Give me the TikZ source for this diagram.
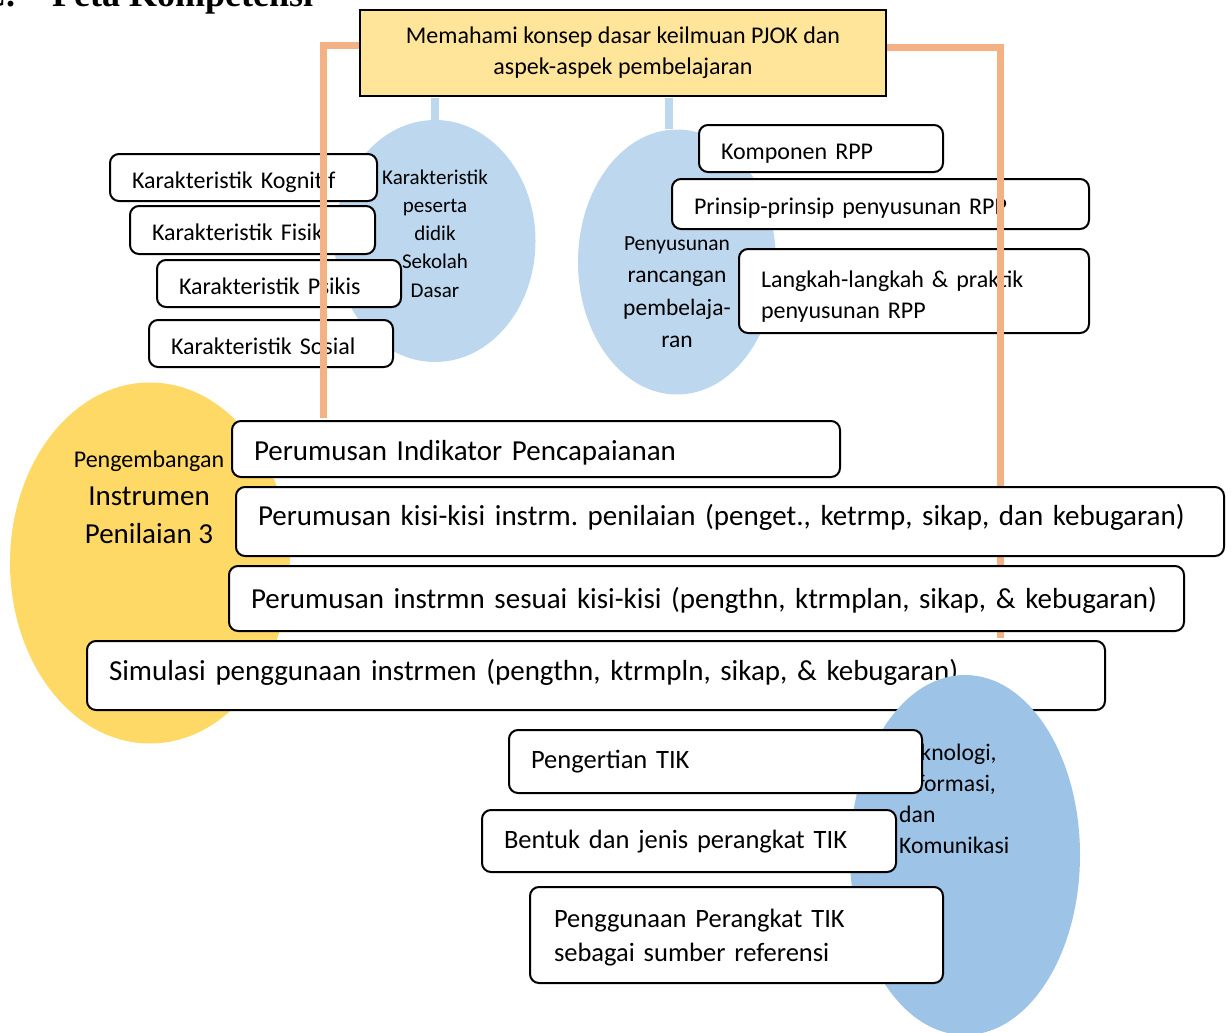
\documentclass[tikz,border=0pt]{standalone}
\usepackage{fontspec}
\setmainfont{Carlito}
\newfontfamily\headfont{Liberation Serif}
\usetikzlibrary{shapes.geometric}

\definecolor{topyellow}{RGB}{255,229,153}
\definecolor{linkorange}{RGB}{244,177,131}
\definecolor{paleblue}{RGB}{189,215,238}
\definecolor{goldyellow}{RGB}{255,217,102}
\definecolor{midblue}{RGB}{157,195,230}

\newcommand{\fs}[2]{\fontsize{#1}{#2}\selectfont}

\tikzset{
  pbox/.style={draw=black, line width=2pt, rounded corners=9pt, fill=white,
    anchor=north west, align=left, inner xsep=22pt, inner ysep=0pt},
  small24/.style={font=\fs{24}{31}, text height=26pt, text depth=5pt},
  big29/.style={font=\fs{29}{36}, text depth=7pt},
  tik27/.style={font=\fs{26.5}{34}, text depth=6pt},
  blob/.style={ellipse, inner sep=0pt, draw=none},
  blobtext/.style={inner sep=0pt},
  orangeline/.style={draw=linkorange, line width=7pt},
  stub/.style={draw=paleblue, line width=8pt},
}

\begin{document}
\frenchspacing
\begin{tikzpicture}[x=1pt,y=1pt,yscale=-1]
\useasboundingbox (0,0) rectangle (1232,1033);

% heading, cut at the top
\node[anchor=base west, inner sep=0pt, font=\headfont\bfseries\fs{36}{40}] (head) at (-20,7) {C.\hspace{37pt}Peta Kompetensi};

% main box
\node[draw=black, line width=2pt, fill=topyellow, anchor=north west, inner sep=0pt,
  minimum width=526, minimum height=86, align=center, font=\fs{24}{31}] (top) at (359,9)
  {Memahami konsep dasar keilmuan PJOK dan\\aspek-aspek pembelajaran};

% upper ellipses
\node[blob, fill=paleblue, minimum width=201, minimum height=242] (ks) at (435,241) {};
\node[blobtext, align=center, font=\fs{21}{28.2}] (ks-t) at (435,233.5) {Karakteristik\\peserta\\didik\\Sekolah\\Dasar};
\node[blob, fill=paleblue, minimum width=198, minimum height=265] (ps) at (677,262) {};
\node[blobtext, align=center, font=\fs{23.5}{32.5}] (ps-t) at (677,292) {{\fs{21.5}{32.5}Penyusunan}\\rancangan\\pembelaja-\\ran};

\draw[stub, shorten <=1pt] (top.south -| ks.north) -- (ks.north);
\draw[stub, shorten <=1pt] (top.south -| 669,0) -- (669,0 |- ps.north);

% karakteristik
\node[pbox, small24, text width=223, minimum height=47] (kog) at (109,153) {Karakteristik Kognitif};
\node[pbox, small24, text width=201, minimum height=48] (fis) at (129,205) {Karakteristik Fisik};
\node[pbox, small24, text width=200, minimum height=47] (psi) at (156,259) {Karakteristik Psikis};
\node[pbox, small24, text width=200, minimum height=47] (sos) at (148,319) {Karakteristik Sosial};

% RPP
\node[pbox, small24, text width=200, minimum height=47] (kom) at (698,124) {Komponen RPP};
\node[pbox, small24, text width=373, minimum height=50] (pri) at (671,178) {Prinsip-prinsip penyusunan RPP};
\node[pbox, font=\fs{24}{31}, text height=27pt, text width=306, minimum height=84] (lan) at (738,248) {Langkah-langkah \& praktik\\penyusunan RPP};

% orange links
\coordinate (lend) at (323,418);
\coordinate (rend) at (1000,638);
\draw[orangeline] (top.west |- 0,46) -| (lend);
\draw[orangeline] (top.east |- 0,48) -| (rend);

% instrumen penilaian
\node[blob, fill=goldyellow, minimum width=280, minimum height=361] (pi) at (150,563) {};
\node[blobtext, align=center, font=\fs{29}{38}] (pi-t) at (149,497) {{\fs{24}{35}Pengembangan}\\Instrumen\\Penilaian 3};

\node[pbox, big29, text height=29pt, text width=564, minimum height=56] (ind) at (231,420) {Perumusan Indikator Pencapaianan};
\node[pbox, big29, text height=14pt, text width=944, minimum height=69] (kis) at (235,486) {\mbox{Perumusan kisi-kisi instrm. penilaian (penget., ketrmp, sikap, dan kebugaran)}};
\node[pbox, big29, text height=27pt, text width=911, minimum height=65] (ins) at (228,565) {\mbox{Perumusan instrmn sesuai kisi-kisi (pengthn, ktrmplan, sikap, \& kebugaran)}};
\node[pbox, big29, text height=17pt, text width=974, minimum height=69] (sim) at (86,640) {\mbox{Simulasi penggunaan instrmen (pengthn, ktrmpln, sikap, \& kebugaran)}};

% TIK
\node[blob, fill=midblue, minimum width=230, minimum height=360] (tik) at (965,855) {};
\node[blobtext, anchor=west, align=left, font=\fs{23.7}{31}] (tik-t) at (899,799) {Teknologi,\\Informasi,\\dan\\Komunikasi};

\node[pbox, tik27, text height=20pt, text width=369, minimum height=63] (pen) at (508,729) {Pengertian TIK};
\node[pbox, tik27, text height=21pt, text width=370, minimum height=62] (ben) at (481,809) {Bentuk dan jenis perangkat TIK};
\node[pbox, font=\fs{26.5}{34}, text height=24pt, text width=365, minimum height=96, inner xsep=24pt] (peng) at (529,886) {Penggunaan Perangkat TIK\\sebagai sumber referensi};

\end{tikzpicture}
\end{document}
